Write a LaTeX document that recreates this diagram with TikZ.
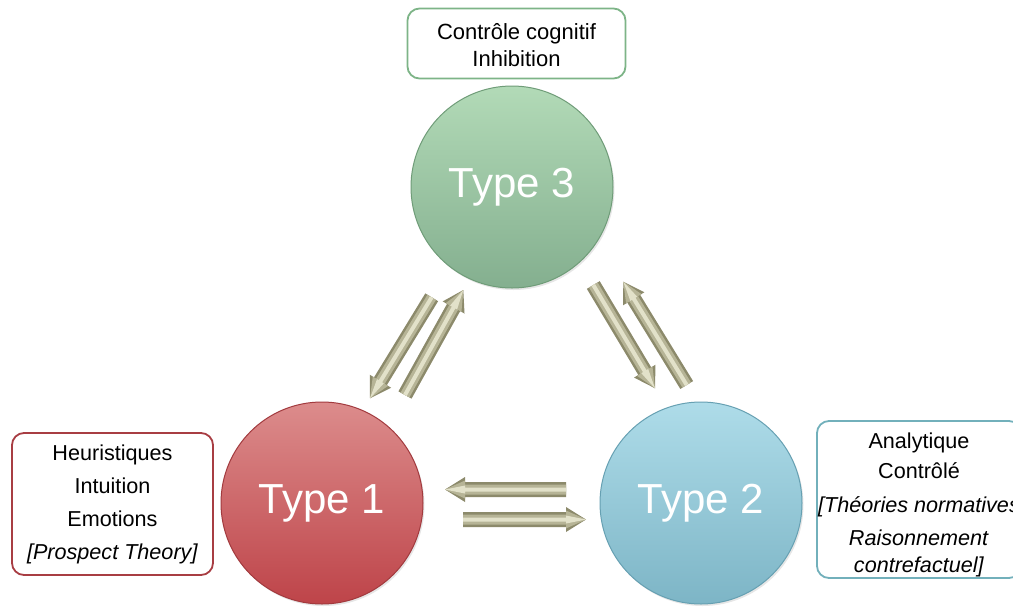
\documentclass[tikz,border=0pt]{standalone}
\usepackage{fontspec}
\setmainfont{Liberation Sans}
\usetikzlibrary{calc,shadows}
\definecolor{gA}{HTML}{B2DAB7}
\definecolor{gB}{HTML}{84AF8F}
\definecolor{gC}{HTML}{6F9C78}
\definecolor{rA}{HTML}{DC8C8C}
\definecolor{rB}{HTML}{BE4449}
\definecolor{rC}{HTML}{A23A3E}
\definecolor{bA}{HTML}{AEDCE9}
\definecolor{bB}{HTML}{7DB5C6}
\definecolor{bC}{HTML}{66A0B2}
\definecolor{gbox}{HTML}{7DB487}
\definecolor{rbox}{HTML}{A83D43}
\definecolor{bbox}{HTML}{72B0BB}
\definecolor{arrA}{HTML}{8C8A6B}
\definecolor{arrB}{HTML}{B6B496}
\definecolor{arrC}{HTML}{E2E1C9}
\newcommand\blockarrow[2]{%
  \coordinate (ba-b) at ($(#2)!20pt!(#1)$);
  \foreach \s/\h/\c in {7.5pt/12.5pt/arrA, 5pt/9pt/arrB, 2pt/4pt/arrC}{%
    \fill[\c] ($(#1)!\s!90:(#2)$) -- ($(ba-b)!\s!90:(#2)$) -- ($(ba-b)!\h!90:(#2)$)
      -- (#2) -- ($(ba-b)!\h!-90:(#2)$) -- ($(ba-b)!\s!-90:(#2)$)
      -- ($(#1)!\s!-90:(#2)$) -- cycle;
  }%
}
\begin{document}
\begin{tikzpicture}[x=1pt,y=-1pt,
  typecircle/.style={circle, minimum size=202pt, inner sep=0pt, text=white,
    line width=1pt, font=\fontsize{42}{50}\selectfont,
    drop shadow={opacity=0.2, shadow xshift=1.5pt, shadow yshift=-2pt}},
  infobox/.style={rounded corners=12pt, line width=1.8pt, fill=white,
    align=center, inner sep=0pt},
  boxtext/.style={align=center, inner sep=0pt}]
\useasboundingbox (0,0) rectangle (1013,606);
\clip (0,0) rectangle (1013,606);

% circles
\node[typecircle, top color=gA, bottom color=gB, draw=gC] (t3) at (512,187) {Type 3};
\node[typecircle, top color=rA, bottom color=rB, draw=rC] (t1) at (322,503) {Type 1};
\node[typecircle, top color=bA, bottom color=bB, draw=bC] (t2) at (701,503) {Type 2};

% boxes
\node[infobox, draw=gbox, minimum width=218pt, minimum height=70pt] (c3) at (516.5,43.5) {};
\node[boxtext, font=\fontsize{22}{27}\selectfont] (c3t) at (516.5,45.5)
  {Contrôle cognitif\\Inhibition};
\node[infobox, draw=rbox, minimum width=201pt, minimum height=142pt,
  font=\fontsize{21.6}{33}\selectfont] (c1) at (112.5,504)
  {Heuristiques\\Intuition\\Emotions\\\textit{[Prospect Theory]}};
\node[infobox, draw=bbox, minimum width=204pt, minimum height=157pt] (c2) at (919,499.5) {};
\node[boxtext, font=\fontsize{21.6}{32}\selectfont] (c2t) at (919,505)
  {Analytique\\[-2pt]Contrôlé\\[2pt]\textit{[Théories normatives}\\[1pt]\textit{Raisonnement}\\[-5pt]\textit{contrefactuel]}};

% arrow end points
\coordinate (a1s) at (566,489.5);   \coordinate (a1e) at (445,489.5);
\coordinate (a2s) at (463,519.5);   \coordinate (a2e) at (586,519.5);
\coordinate (a3s) at (431.7,297.3); \coordinate (a3e) at (370,398.3);
\coordinate (a4s) at (405,395);     \coordinate (a4e) at (463.3,290);
\coordinate (a5s) at (593.3,285);   \coordinate (a5e) at (655,388.3);
\coordinate (a6s) at (686.7,385);   \coordinate (a6e) at (623.3,281.7);

\blockarrow{a1s}{a1e}
\blockarrow{a2s}{a2e}
\blockarrow{a3s}{a3e}
\blockarrow{a4s}{a4e}
\blockarrow{a5s}{a5e}
\blockarrow{a6s}{a6e}
\end{tikzpicture}
\end{document}
